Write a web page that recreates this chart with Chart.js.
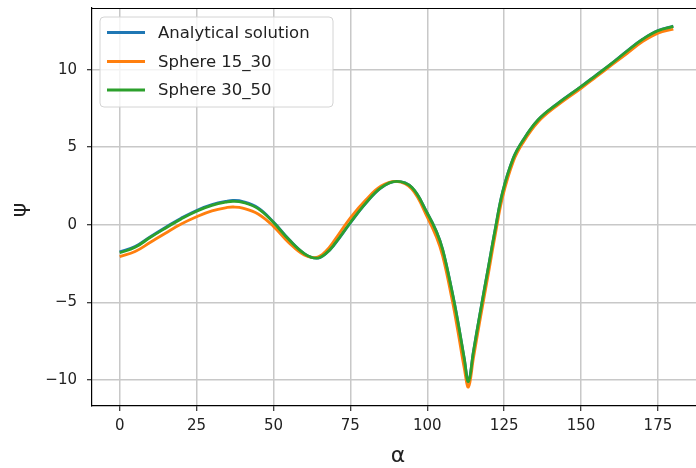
<!DOCTYPE html>
<html>
<head>
<meta charset="utf-8">
<script src="https://cdn.jsdelivr.net/npm/chart.js@4.4.1/dist/chart.umd.min.js"></script>
<style>
  html, body { margin: 0; padding: 0; background: #fff; overflow: hidden; }
  #wrap { width: 706px; height: 468px; position: relative; }
</style>
</head>
<body>
<div id="wrap"><canvas id="c"></canvas></div>
<script>
const alpha = [0,5,10,15,20,25,30,35,37,40,45,50,55,60,64,67,70,75,80,85,90,95,100,103,105,108,110,112,113.4,115,117,120,122,124.5,128,131,136,142,150,155,160,165,170,175,180];
const analytical = [-1.74,-1.4,-0.76,-0.15,0.43,0.93,1.3,1.53,1.57,1.5,1.09,0.18,-0.93,-1.85,-2.15,-1.86,-1.22,0.12,1.38,2.39,2.8,2.41,0.77,-0.43,-1.58,-4.22,-6.27,-8.57,-10.05,-8.17,-5.87,-2.57,-0.38,2.12,4.32,5.41,6.76,7.76,8.91,9.66,10.41,11.21,11.96,12.52,12.8];
const sphere1530 = [-2.05,-1.72,-1.12,-0.52,0.05,0.52,0.9,1.12,1.15,1.08,0.7,-0.1,-1.15,-1.95,-2.1,-1.7,-0.95,0.45,1.6,2.5,2.8,2.3,0.5,-0.8,-2.0,-4.75,-6.9,-9.2,-10.45,-8.6,-6.3,-3.0,-0.75,1.8,4.1,5.25,6.62,7.65,8.8,9.55,10.3,11.05,11.8,12.35,12.6];
const sphere3050 = [-1.8,-1.45,-0.8,-0.2,0.38,0.88,1.25,1.48,1.52,1.45,1.05,0.15,-0.95,-1.85,-2.15,-1.85,-1.2,0.15,1.4,2.4,2.8,2.4,0.75,-0.45,-1.6,-4.25,-6.3,-8.6,-10.1,-8.2,-5.9,-2.6,-0.4,2.1,4.3,5.4,6.75,7.75,8.9,9.65,10.4,11.2,11.95,12.5,12.78];
const seriesLabels = ['Analytical solution', 'Sphere 15_30', 'Sphere 30_50'];
const seriesColors = ['#1f77b4', '#ff7f0e', '#2ca02c'];
const xTicks = [0,25,50,75,100,125,150,175];
const yTicks = [-10,-5,0,5,10];
const xLabel = 'α';
const yLabel = 'ψ';

const FONT = "'DejaVu Sans', sans-serif";
const pts = arr => alpha.map((a, i) => ({x: a, y: arr[i]}));

const mplFrame = {
  id: 'mplFrame',
  afterDraw(chart) {
    const ctx = chart.ctx, ca = chart.chartArea;
    ctx.save();
    ctx.strokeStyle = '#000';
    ctx.lineWidth = 1.2;
    ctx.beginPath();
    ctx.moveTo(ca.left, ca.top + 0.5);
    ctx.lineTo(ca.right, ca.top + 0.5);
    ctx.moveTo(ca.right, ca.top);
    ctx.lineTo(ca.right, ca.bottom);
    ctx.stroke();

    // legend
    const bx = 100, by = 17, bw = 233, bh = 90, r = 4;
    ctx.beginPath();
    ctx.moveTo(bx + r, by);
    ctx.arcTo(bx + bw, by, bx + bw, by + bh, r);
    ctx.arcTo(bx + bw, by + bh, bx, by + bh, r);
    ctx.arcTo(bx, by + bh, bx, by, r);
    ctx.arcTo(bx, by, bx + bw, by, r);
    ctx.closePath();
    ctx.fillStyle = 'rgba(255,255,255,0.8)';
    ctx.fill();
    ctx.strokeStyle = '#d4d4d4';
    ctx.lineWidth = 1;
    ctx.stroke();
    const rows = [32.5, 61.5, 90];
    chart.data.datasets.forEach((ds, i) => {
      ctx.strokeStyle = ds.borderColor;
      ctx.lineWidth = 2.8;
      ctx.beginPath();
      ctx.moveTo(107, rows[i]);
      ctx.lineTo(145, rows[i]);
      ctx.stroke();
      ctx.fillStyle = '#222';
      ctx.font = '16.5px ' + FONT;
      ctx.textAlign = 'left';
      ctx.textBaseline = 'middle';
      ctx.fillText(ds.label, 158, rows[i] + 1);
    });

    // axis titles
    ctx.fillStyle = '#222';
    ctx.font = '22px ' + FONT;
    ctx.textAlign = 'center';
    ctx.textBaseline = 'middle';
    ctx.fillText(xLabel, 398, 456);
    ctx.save();
    ctx.translate(20, 210);
    ctx.rotate(-Math.PI / 2);
    ctx.fillText(yLabel, 0, 0);
    ctx.restore();
    ctx.restore();
  }
};

const mkDs = (label, data, color, order) => ({
  label, data: pts(data), borderColor: color, backgroundColor: color, order,
  borderWidth: 2.8, pointRadius: 0, fill: false, tension: 0.4
});

new Chart(document.getElementById('c'), {
  type: 'line',
  data: {
    datasets: [
      mkDs(seriesLabels[0], analytical, seriesColors[0], 3),
      mkDs(seriesLabels[1], sphere1530, seriesColors[1], 2),
      mkDs(seriesLabels[2], sphere3050, seriesColors[2], 1)
    ]
  },
  options: {
    responsive: true,
    maintainAspectRatio: false,
    animation: false,
    layout: { padding: { top: 8, right: 5, left: 0, bottom: 0 } },
    plugins: { legend: { display: false }, tooltip: { enabled: false }, title: { display: false } },
    scales: {
      x: {
        type: 'linear', min: -9, max: 189,
        afterBuildTicks: s => { s.ticks = xTicks.map(v => ({value: v})); },
        afterFit: s => { s.height = 62; s.paddingLeft = 0; s.paddingRight = 0; },
        grid: { color: '#c8c8c8', lineWidth: 1.5, tickColor: '#000', tickLength: 5, tickWidth: 1 },
        border: { color: '#000', width: 1.2 },
        ticks: { font: { family: FONT, size: 15 }, color: '#222', padding: 6, maxRotation: 0, autoSkip: false,
                 callback: v => String(v) }
      },
      y: {
        type: 'linear', min: -11.67, max: 13.97,
        afterBuildTicks: s => { s.ticks = yTicks.map(v => ({value: v})); },
        afterFit: s => { s.width = 92; s.paddingTop = 0; s.paddingBottom = 0; },
        grid: { color: '#c8c8c8', lineWidth: 1.5, tickColor: '#000', tickLength: 5, tickWidth: 1 },
        border: { color: '#000', width: 1.2 },
        ticks: { font: { family: FONT, size: 15 }, color: '#222', padding: 10, autoSkip: false,
                 callback: v => v < 0 ? '\u2212' + Math.abs(v) : String(v) }
      }
    }
  },
  plugins: [mplFrame]
});
</script>
</body>
</html>
